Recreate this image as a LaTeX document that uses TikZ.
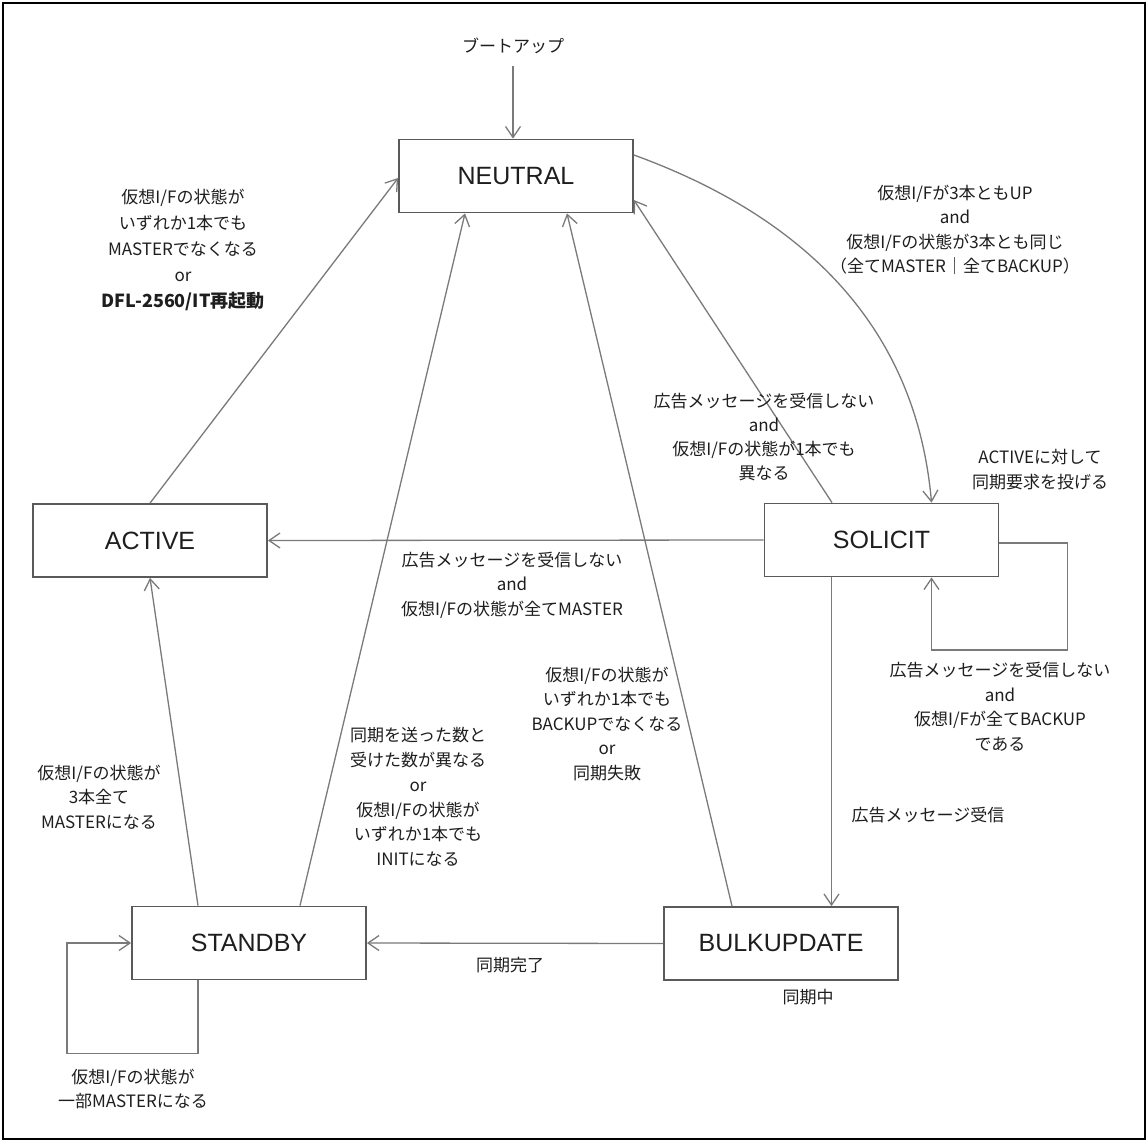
\documentclass[tikz,border=0pt]{standalone}
\usepackage{fontspec}
\setmainfont{Liberation Sans}
\newfontfamily\jp{Noto Sans CJK JP}
\usetikzlibrary{arrows.meta,calc}
\definecolor{linec}{HTML}{7A7A7A}
\definecolor{boxc}{HTML}{5A5A5A}
\definecolor{txt}{HTML}{1E1E1E}
\begin{document}
\begin{tikzpicture}[x=1pt,y=-1pt,
  state/.style={draw=boxc, line width=1.8pt, minimum width=234pt, minimum height=73pt,
    inner sep=0pt, text=txt, font=\fontsize{25}{30}\selectfont},
  lbl/.style={align=center, inner sep=0pt, text=txt, font=\jp\fontsize{17}{24.5}\selectfont},
  edge/.style={draw=linec, line width=1.3pt,
    -{Straight Barb[length=11pt,width=15pt,line width=1.3pt]}}
]
% page and frame
\useasboundingbox (0,0) rectangle (1148,1142);
\fill[white] (0,0) rectangle (1148,1142);
\draw[black, line width=1.5pt] (3,3) rectangle (1145,1139);

% states
\node[state] (neutral) at (516,176)   {NEUTRAL};
\node[state] (active)  at (150,540.5) {ACTIVE};
\node[state] (solicit) at (881.5,540) {SOLICIT};
\node[state] (standby) at (249,943)   {STANDBY};
\node[state] (bulk)    at (781,943.5) {BULKUPDATE};

% boot
\node[lbl] (boot) at (513,46) {ブートアップ};
\draw[edge] ([yshift=-12pt]boot.south) -- (boot.south |- neutral.north);

% transitions into NEUTRAL
\draw[edge] (active.north) -- ([yshift=-2pt]neutral.west);
\draw[edge] ([xshift=51pt]standby.north) -- ([xshift=-51pt]neutral.south);
\draw[edge] ([xshift=-49pt]bulk.north) -- ([xshift=51pt]neutral.south);
\draw[edge] ([xshift=-49.5pt]solicit.north) -- ([yshift=-24pt]neutral.east);

% NEUTRAL -> SOLICIT
\draw[edge] ([yshift=21pt]neutral.east) to[out=-20,in=95] ([xshift=50pt]solicit.north);

% SOLICIT transitions
\draw[edge] (solicit.west) -- (active.east);
\coordinate (sb) at ([xshift=-50pt]solicit.south);
\draw[edge] (sb) -- (sb |- bulk.north);
\draw[edge] ([yshift=-3pt]solicit.east) -- ++(68,0) -- ++(0,107) -| ([xshift=50pt]solicit.south);

% STANDBY / BULKUPDATE
\draw[edge] (bulk.west) -- (standby.east);
\draw[edge] ([xshift=-51pt]standby.north) -- (active.south);
\draw[edge] ([xshift=-51pt]standby.south) -- ++(0,73) -- ++(-131,0) |- (standby.west);

% conditions
\node[lbl, font=\jp\fontsize{17}{26}\selectfont] (la) at (183,249.5)
  {仮想I/Fの状態が\\いずれか1本でも\\MASTERでなくなる\\or\\{\bfseries\fontsize{18}{26}\selectfont DFL-2560/IT再起動}};
\node[lbl] (lb) at (955,230)
  {仮想I/Fが3本ともUP\\and\\仮想I/Fの状態が3本とも同じ\\（全てMASTER｜全てBACKUP）};
\node[lbl, font=\jp\fontsize{17}{24}\selectfont] (lc) at (764,437.5)
  {広告メッセージを受信しない\\and\\仮想I/Fの状態が1本でも\\異なる};
\node[lbl] (ld) at (1040,469.5) {ACTIVEに対して\\同期要求を投げる};
\node[lbl] (le) at (512,585)
  {広告メッセージを受信しない\\and\\仮想I/Fの状態が全てMASTER};
\node[lbl] (lf) at (1000,706.5)
  {広告メッセージを受信しない\\and\\仮想I/Fが全てBACKUP\\である};
\node[lbl] (lg) at (607,724)
  {仮想I/Fの状態が\\いずれか1本でも\\BACKUPでなくなる\\or\\同期失敗};
\node[lbl, font=\jp\fontsize{17}{24.8}\selectfont] (lh) at (418,797)
  {同期を送った数と\\受けた数が異なる\\or\\仮想I/Fの状態が\\いずれか1本でも\\INITになる};
\node[lbl] (li) at (99,797) {仮想I/Fの状態が\\3本全て\\MASTERになる};
\node[lbl] (lj) at (928,815) {広告メッセージ受信};
\node[lbl] (lk) at (510,965) {同期完了};
\node[lbl] (ll) at (808,997) {同期中};
\node[lbl, font=\jp\fontsize{17}{24}\selectfont] (lm) at (133,1089)
  {仮想I/Fの状態が\\一部MASTERになる};
\end{tikzpicture}
\end{document}
